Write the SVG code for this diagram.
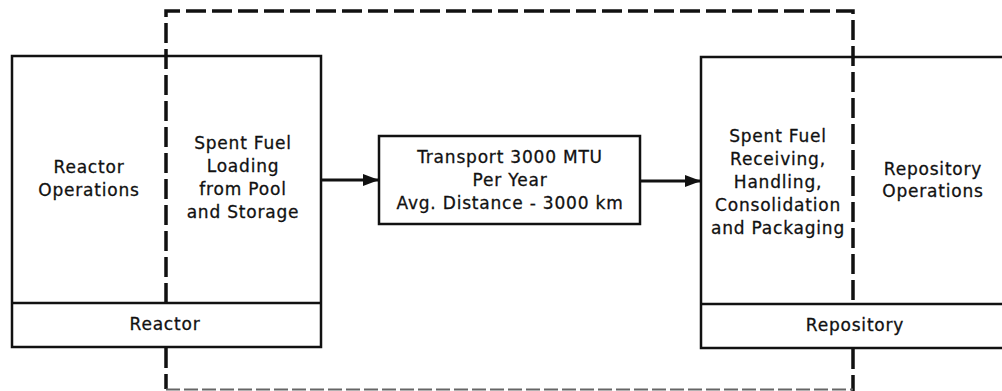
<svg xmlns="http://www.w3.org/2000/svg" width="1002" height="391" viewBox="0 0 1002 391">
<style>
.box{fill:none;stroke:#111;stroke-width:2.5}
.t{font-family:"DejaVu Sans",sans-serif;font-size:17px;letter-spacing:0.8px;fill:#111;stroke:#111;stroke-width:0.3;text-anchor:middle}
.dash{fill:none;stroke:#111;stroke-width:3.5;stroke-dasharray:20 6}
.faint{fill:none;stroke:#666;stroke-width:2;stroke-dasharray:14 4}
.arr{fill:none;stroke:#111;stroke-width:3}
</style>
<defs>
<marker id="ah" viewBox="0 0 10 10" refX="10" refY="5" markerWidth="5.5" markerHeight="5.5" orient="auto" markerUnits="strokeWidth">
<path d="M0,1.2 L10,5 L0,8.8 z" fill="#111"/>
</marker>
</defs>
<rect width="1002" height="391" fill="#fff"/>
<g id="reactor">
<rect class="box" x="12" y="56" width="309" height="291"/>
<line class="box" x1="12" y1="303" x2="321" y2="303"/>
<text class="t" x="89" y="173">Reactor</text>
<text class="t" x="89" y="196">Operations</text>
<text class="t" x="243" y="149">Spent Fuel</text>
<text class="t" x="243" y="172">Loading</text>
<text class="t" x="243" y="195">from Pool</text>
<text class="t" x="243" y="218">and Storage</text>
<text class="t" x="165" y="330">Reactor</text>
</g>
<g id="transport">
<rect class="box" x="379" y="136" width="261" height="88"/>
<text class="t" x="510" y="163">Transport 3000 MTU</text>
<text class="t" x="510" y="186">Per Year</text>
<text class="t" x="510" y="209">Avg. Distance - 3000 km</text>
</g>
<g id="repository">
<rect class="box" x="701" y="57" width="310" height="291"/>
<line class="box" x1="701" y1="304" x2="1002" y2="304"/>
<text class="t" x="778" y="142">Spent Fuel</text>
<text class="t" x="778" y="165">Receiving,</text>
<text class="t" x="778" y="188">Handling,</text>
<text class="t" x="778" y="211">Consolidation</text>
<text class="t" x="778" y="234">and Packaging</text>
<text class="t" x="933" y="175">Repository</text>
<text class="t" x="933" y="197">Operations</text>
<text class="t" x="855" y="331">Repository</text>
</g>
<g id="connectors">
<line class="arr" x1="321" y1="180" x2="379" y2="180" marker-end="url(#ah)"/>
<line class="arr" x1="640" y1="181" x2="701" y2="181" marker-end="url(#ah)"/>
<path class="dash" d="M166,303 L166,11 L853,11 L853,304"/>
<path class="dash" d="M166,348 L166,389"/>
<path class="dash" d="M853,349 L853,391"/>
<path class="faint" d="M166,389.5 L853,389.5"/>
</g>
</svg>
